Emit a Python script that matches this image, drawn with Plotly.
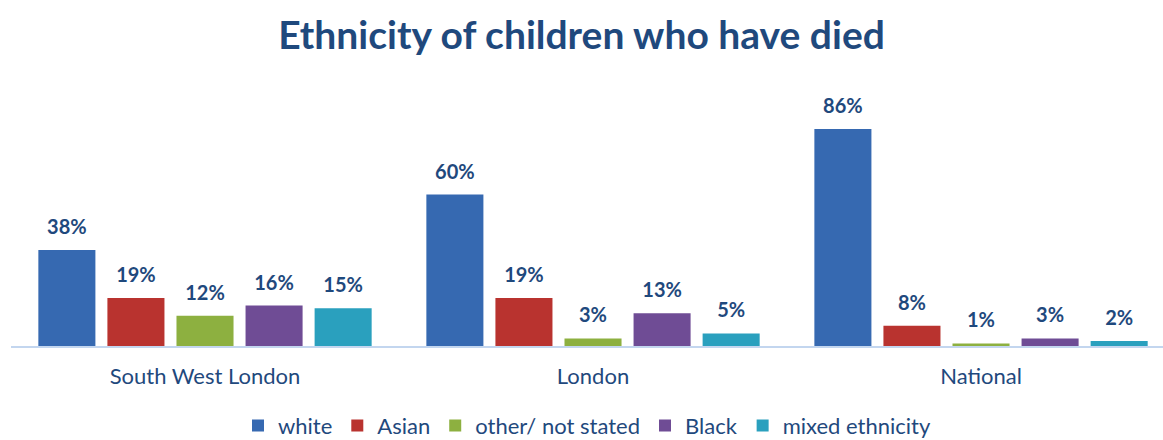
import plotly.graph_objects as go

categories = ["South West London", "London", "National"]
series_names = ["white", "Asian", "other/ not stated", "Black", "mixed ethnicity"]
white = [38, 60, 86]
asian = [19, 19, 8]
other = [12, 3, 1]
black = [16, 13, 3]
mixed = [15, 5, 2]
series_values = [white, asian, other, black, mixed]
colors = ["#3669B1", "#B9332F", "#8DB040", "#6F4C95", "#2AA0BE"]

TEXT = "#1F497D"
FONT = "Lato, 'Open Sans', sans-serif"

fig = go.Figure()
for i, (name, vals, col) in enumerate(zip(series_names, series_values, colors)):
    fig.add_trace(go.Bar(
        x=categories, y=vals, name=name, offsetgroup=str(i),
        marker=dict(color=col, line=dict(width=0)),
        hoverinfo="skip",
    ))
for i, vals in enumerate(series_values):
    fig.add_trace(go.Scatter(
        x=categories, y=vals, mode="markers+text", offsetgroup=str(i),
        marker=dict(size=16, opacity=0),
        text=[f"{v}%" for v in vals], textposition="top center",
        textfont=dict(family=FONT, size=20, color=TEXT, weight="bold"),
        cliponaxis=False, showlegend=False, hoverinfo="skip",
    ))

fig.update_layout(
    width=1163, height=440,
    paper_bgcolor="white", plot_bgcolor="white",
    margin=dict(l=11, r=0, t=80, b=94, autoexpand=False),
    barmode="group", bargap=0.11, bargroupgap=0.174,
    scattermode="group", scattergap=0.11,
    title=dict(text="<b>Ethnicity of children who have died</b>", x=0.5, xanchor="center",
               y=0.92, yanchor="middle",
               font=dict(family=FONT, size=39, color=TEXT)),
    xaxis=dict(range=[-0.5, 2.469], showgrid=False, showline=True, linecolor="#C3D6EF", linewidth=2,
               ticks="outside", ticklen=10, tickcolor="rgba(0,0,0,0)",
               tickfont=dict(family=FONT, size=22, color=TEXT)),
    yaxis=dict(range=[0, 105.4], showgrid=False, showticklabels=False, zeroline=False, showline=False),
    legend=dict(orientation="h", x=0.5, xanchor="center", y=-0.3, yanchor="middle",
                font=dict(family=FONT, size=22, color=TEXT), itemwidth=30, tracegroupgap=0),
    showlegend=True,
)
fig.write_html("out.html", config={"displayModeBar": False},
               post_script="document.body.style.margin='0';document.body.style.overflow='hidden';")
